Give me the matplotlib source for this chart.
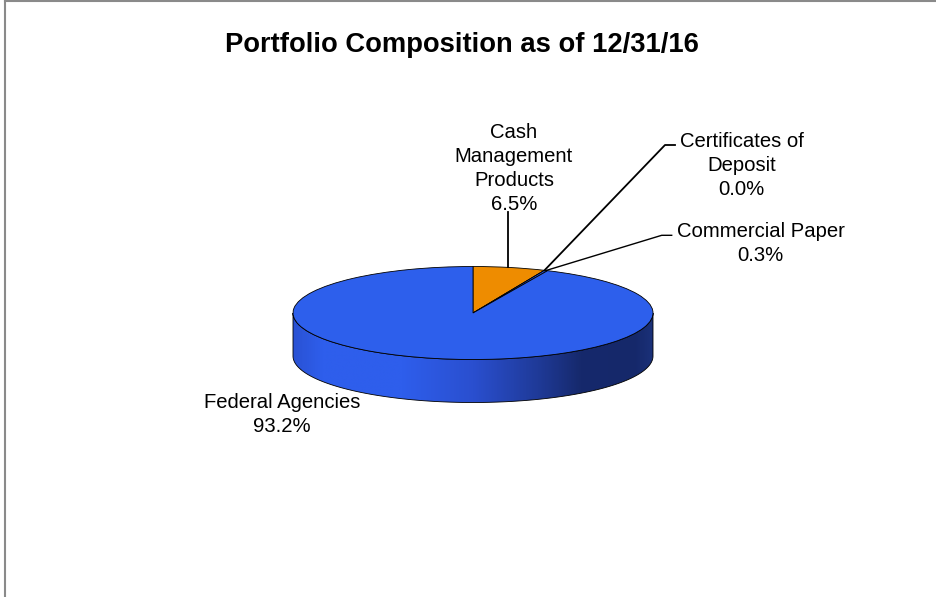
import numpy as np
import matplotlib
matplotlib.use("Agg")
import matplotlib.pyplot as plt
from matplotlib.patches import Polygon
from matplotlib.colors import LinearSegmentedColormap

plt.rcParams['font.family'] = ['Liberation Sans', 'DejaVu Sans']

# ---- data ----
title = "Portfolio Composition as of 12/31/16"
categories = ["Cash Management Products", "Certificates of Deposit",
              "Commercial Paper", "Federal Agencies"]
label_text = ["Cash\nManagement\nProducts", "Certificates of\nDeposit",
              "Commercial Paper", "Federal Agencies"]
values = [6.5, 0.0, 0.3, 93.2]
colors = ["#EE8C00", "#2D5FEC", "#2D5FEC", "#2D5FEC"]

# ---- layout (pixels) ----
W, H = 936, 597
fig = plt.figure(figsize=(W / 100, H / 100), dpi=100)
cx, cy, rx, ry, depth = 473, 313, 180, 46.5, 43
dd = depth / ry
mx, my_top, my_bot = 1.1, 1.2, 1 + dd + 0.2
left = cx - rx * mx
width = 2 * rx * mx
top = cy - ry * my_top
bottom = cy + ry * my_bot
axp = fig.add_axes([left / W, 1 - bottom / H, width / W, (bottom - top) / H])

wedges, _ = axp.pie(values, colors=colors, startangle=90, counterclock=False,
                    radius=1, wedgeprops=dict(edgecolor='black', linewidth=0.6, zorder=3))

# side wall of the 3D pie
th = np.linspace(np.pi, 2 * np.pi, 300)
top_edge = np.column_stack([np.cos(th), np.sin(th)])
bot_edge = np.column_stack([np.cos(th[::-1]), np.sin(th[::-1]) - dd])
side = Polygon(np.vstack([top_edge, bot_edge]), closed=True, facecolor='none',
               edgecolor='black', linewidth=0.6, zorder=2)
axp.add_patch(side)
cmap = LinearSegmentedColormap.from_list('side', [
    (0.0, '#2a52d4'), (0.08, '#2E5EEC'), (0.3, '#2E5EEC'), (0.5, '#2a4fcf'),
    (0.68, '#1f3a98'), (0.8, '#16296c'), (0.95, '#15286a'), (1.0, '#1b3179')])
grad = np.linspace(0, 1, 400).reshape(1, -1)
im = axp.imshow(grad, extent=[-1, 1, -1 - dd, 0], aspect='auto', cmap=cmap,
                zorder=1, interpolation='bilinear')
im.set_clip_path(side)

axp.set_aspect('auto')
axp.set_xlim(-mx, mx)
axp.set_ylim(-my_bot, my_top)
axp.axis('off')

# ---- overlay in pixel coordinates ----
ax = fig.add_axes([0, 0, 1, 1])
ax.set_xlim(0, W)
ax.set_ylim(H, 0)
ax.axis('off')
ax.patch.set_alpha(0)

# border
ax.plot([5, 5], [0, H], color='#8a8a8a', lw=1.5, clip_on=False)
ax.plot([5, W], [1, 1], color='#8a8a8a', lw=1.5, clip_on=False)

ax.text(461.5, 31.5, title, ha='center', va='top', fontsize=19.7,
        fontweight='bold', color='black')


def anchor(w):
    a = np.deg2rad((w.theta1 + w.theta2) / 2)
    disp = axp.transData.transform((np.cos(a), np.sin(a)))
    return ax.transData.inverted().transform(disp)


label_pos = [(514, 123.3), (741.5, 131.7), (760.8, 221.7), (281.7, 393)]
for i in range(len(values)):
    ax.text(label_pos[i][0], label_pos[i][1],
            f"{label_text[i]}\n{values[i]:.1f}%", ha='center', va='top',
            fontsize=14.6, linespacing=1.33, color='black')

# leader lines
a0 = anchor(wedges[0])
ax.plot([a0[0] - 1.5, a0[0] - 1.5], [a0[1], 212], color='black', lw=1.3)
a1 = anchor(wedges[1])
ax.plot([a1[0], 665, 675], [a1[1], 145, 145], color='black', lw=1.3)
a2 = anchor(wedges[2])
ax.plot([a2[0], 661.7, 671.7], [a2[1], 235.3, 235.3], color='black', lw=1.0)

fig.savefig('out.png', dpi=100)
